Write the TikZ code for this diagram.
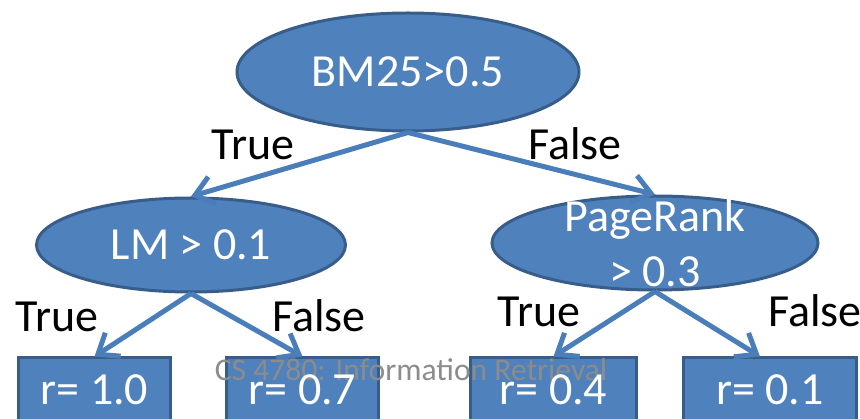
\documentclass[tikz,border=0pt]{standalone}
\usepackage{fontspec}
\setmainfont{Carlito}
\usetikzlibrary{shapes.geometric,arrows.meta}
\definecolor{nodefill}{HTML}{4F81BD}
\definecolor{nodeline}{HTML}{385D8A}
\definecolor{linkcol}{HTML}{4A7EBB}
\definecolor{markgray}{HTML}{8C8C8C}
\newcommand{\bigtext}{\fontsize{46}{55}\selectfont}
\begin{document}
\begin{tikzpicture}[x=1pt,y=-1pt,
  test/.style={ellipse, fill=nodefill, draw=nodeline, line width=3pt,
    inner sep=0pt, text=white, font=\bigtext},
  leafbox/.style={rectangle, fill=nodefill, draw=nodeline, line width=3pt,
    inner sep=0pt, minimum height=72pt},
  leaftext/.style={text=white, font=\bigtext, anchor=base, inner sep=0pt},
  branch/.style={text=black, font=\bigtext, anchor=base, inner sep=0pt},
  link/.style={draw=linkcol, line width=5pt,
    -{Straight Barb[length=18pt,width=28pt]}},
  wmark/.style={text=markgray, font=\fontsize{31.6}{36}\selectfont, inner sep=0pt}
]
\useasboundingbox (0,0) rectangle (860,419);

% decision nodes
\node[test, minimum width=342pt, minimum height=118pt] (root) at (408,72) {BM25>0.5};
\node[test, minimum width=309pt, minimum height=94pt] (lm) at (191,245) {LM > 0.1};
\node[test, minimum width=326pt, minimum height=94pt,
  label={[text=white, font=\bigtext, align=center, inner sep=0pt]center:PageRank\\> 0.3}]
  (pr) at (655,243) {};

% leaves
\node[leafbox, minimum width=152pt] (r1) at (94.5,394) {};
\node[leafbox, minimum width=152pt] (r2) at (302.5,394) {};
\node[leafbox, minimum width=166pt] (r3) at (553.5,394) {};
\node[leafbox, minimum width=173pt] (r4) at (770,394) {};

% branches
\draw[link] (root.south) -- (lm.north);
\draw[link] (root.south) -- (pr.north);
\draw[link] (lm.south) -- (r1.north);
\draw[link] (lm.south) -- (r2.north);
\draw[link] (pr.south) -- (r3.north);
\draw[link] (pr.south) -- ([xshift=-10pt]r4.north);

% branch labels
\node[branch] (lt1) at (253,160) {True};
\node[branch] (lf1) at (575,160) {False};
\node[branch] (lt2) at (57,332) {True};
\node[branch] (lf2) at (319,332) {False};
\node[branch] (lt3) at (539,327) {True};
\node[branch] (lf3) at (815,327) {False};

% footer line
\node[wmark] (wm) at (411,370) {CS 4780: Information Retrieval};

% leaf values
\node[leaftext] (t1) at ([yshift=-11pt]r1.center) {r= 1.0};
\node[leaftext] (t2) at ([yshift=-11pt]r2.center) {r= 0.7};
\node[leaftext] (t3) at ([yshift=-11pt]r3.center) {r= 0.4};
\node[leaftext] (t4) at ([yshift=-11pt]r4.center) {r= 0.1};
\end{tikzpicture}
\end{document}
